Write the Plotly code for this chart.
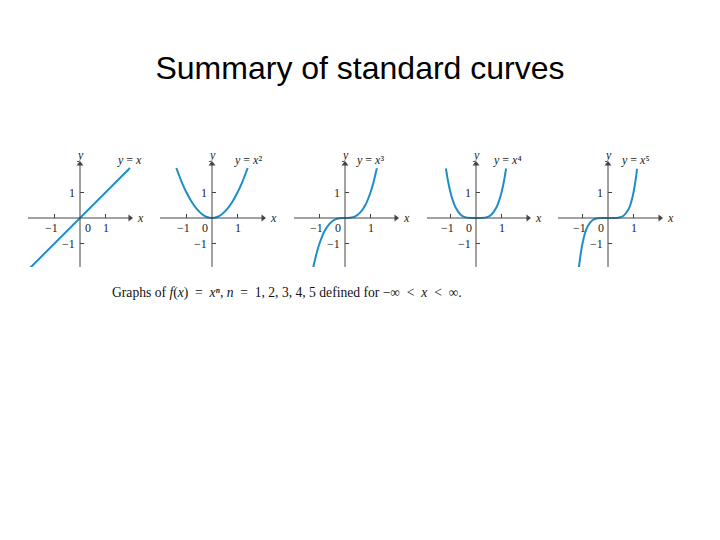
import plotly.graph_objects as go

# sample points, y = x^n for n = 1..5
x1 = [-2.0, 1.96]
y1 = [-2.0, 1.96]

x2 = [-1.4, -1.2, -1.0, -0.8, -0.6, -0.4, -0.2, 0.0, 0.2, 0.4, 0.6, 0.8, 1.0, 1.2, 1.4]
y2 = [1.96, 1.44, 1.0, 0.64, 0.36, 0.16, 0.04, 0.0, 0.04, 0.16, 0.36, 0.64, 1.0, 1.44, 1.96]

x3 = [-1.25, -1.1, -1.0, -0.8, -0.6, -0.4, -0.2, 0.0, 0.2, 0.4, 0.6, 0.8, 1.0, 1.1, 1.25]
y3 = [-1.95, -1.33, -1.0, -0.51, -0.22, -0.06, -0.01, 0.0, 0.01, 0.06, 0.22, 0.51, 1.0, 1.33, 1.95]

x4 = [-1.18, -1.1, -1.0, -0.9, -0.8, -0.6, -0.4, -0.2, 0.0, 0.2, 0.4, 0.6, 0.8, 0.9, 1.0, 1.1, 1.18]
y4 = [1.94, 1.46, 1.0, 0.66, 0.41, 0.13, 0.026, 0.002, 0.0, 0.002, 0.026, 0.13, 0.41, 0.66, 1.0, 1.46, 1.94]

x5 = [-1.14, -1.1, -1.0, -0.9, -0.8, -0.6, -0.4, -0.2, 0.0, 0.2, 0.4, 0.6, 0.8, 0.9, 1.0, 1.1, 1.14]
y5 = [-1.93, -1.61, -1.0, -0.59, -0.33, -0.078, -0.01, -0.0003, 0.0, 0.0003, 0.01, 0.078, 0.33, 0.59, 1.0, 1.61, 1.93]

curve_x = [x1, x2, x3, x4, x5]
curve_y = [y1, y2, y3, y4, y5]
eq_labels = ['<i>y</i> = <i>x</i>', '<i>y</i> = <i>x</i>\u00b2', '<i>y</i> = <i>x</i>\u00b3',
             '<i>y</i> = <i>x</i>\u2074', '<i>y</i> = <i>x</i>\u2075']
eq_pos = [1.96, 1.41, 0.98, 1.22, 1.06]

# layout of the five small panels (page pixels); the page body has an 8px margin
PAD = 8
W, H = 720 - PAD, 540 - PAD
U = 25.5          # pixels per unit
OY = 218          # pixel row of the x axis
Y_RANGE = [-1.92, 2.2]
origins = [80, 212, 345, 476, 608]
x_ranges = [[-2.04, 2.04], [-2.04, 2.08], [-2.0, 2.08], [-1.92, 2.12], [-1.96, 2.12]]
zero_left = [False, True, True, True, True]

CURVE = 'rgb(30,142,200)'
AXIS = '#444'
SERIF = 'Liberation Serif, Times New Roman, serif'


def px_x(p):
    return (p - PAD) / W


def px_y(p):
    return 1 - (p - PAD) / H


fig = go.Figure()
layout = {}
annotations = []
shapes = []

for i in range(5):
    n = '' if i == 0 else str(i + 1)
    xa, ya = 'x' + n, 'y' + n
    ox, xr = origins[i], x_ranges[i]
    layout['xaxis' + n] = dict(domain=[px_x(ox + xr[0] * U), px_x(ox + xr[1] * U)],
                               range=xr, visible=False, anchor=ya)
    layout['yaxis' + n] = dict(domain=[px_y(OY - Y_RANGE[0] * U), px_y(OY - Y_RANGE[1] * U)],
                               range=Y_RANGE, visible=False, anchor=xa)

    # axis lines through the origin
    shapes.append(dict(type='line', xref=xa, yref=ya, x0=xr[0], x1=xr[1], y0=0, y1=0,
                       line=dict(color=AXIS, width=1)))
    shapes.append(dict(type='line', xref=xa, yref=ya, x0=0, x1=0, y0=Y_RANGE[0], y1=Y_RANGE[1],
                       line=dict(color=AXIS, width=1)))
    # tick marks
    for t in (-1, 1):
        shapes.append(dict(type='line', xref=xa, yref=ya, x0=t, x1=t, y0=0, y1=0.16,
                           line=dict(color=AXIS, width=1)))
        shapes.append(dict(type='line', xref=xa, yref=ya, x0=0, x1=0.16, y0=t, y1=t,
                           line=dict(color=AXIS, width=1)))

    # arrowheads at the axis ends
    fig.add_trace(go.Scatter(x=[xr[1] - 0.08, 0], y=[0, Y_RANGE[1] - 0.08], mode='markers',
                             xaxis=xa, yaxis=ya, cliponaxis=False, showlegend=False, hoverinfo='skip',
                             marker=dict(symbol=['triangle-right', 'triangle-up'], size=6, color=AXIS)))

    fig.add_trace(go.Scatter(x=curve_x[i], y=curve_y[i], mode='lines', xaxis=xa, yaxis=ya,
                             line=dict(color=CURVE, width=2, shape='spline', smoothing=0.6),
                             showlegend=False, hoverinfo='skip', cliponaxis=False))

    lab = dict(xref=xa, yref=ya, showarrow=False, font=dict(family=SERIF, size=12, color='#222'))
    annotations.append(dict(lab, x=-1, y=0, text='\u22121', yanchor='top', yshift=-1, xshift=-3))
    annotations.append(dict(lab, x=1, y=0, text='1', yanchor='top', yshift=-1))
    annotations.append(dict(lab, x=0, y=0, text='0', yanchor='top', yshift=-1,
                            xanchor='right' if zero_left[i] else 'left', xshift=-2 if zero_left[i] else 3))
    annotations.append(dict(lab, x=0, y=1, text='1', xanchor='right', xshift=-3))
    annotations.append(dict(lab, x=0, y=-1, text='\u22121', xanchor='right', xshift=-3))
    annotations.append(dict(lab, x=xr[1], y=0, text='<i>x</i>', xanchor='left', xshift=3))
    annotations.append(dict(lab, x=0, y=Y_RANGE[1], text='<i>y</i>', yanchor='bottom', yshift=-2))
    # equation label sits just above the top of the y range
    annotations.append(dict(lab, x=eq_pos[i], y=Y_RANGE[1], text=eq_labels[i], yshift=2))

annotations.append(dict(xref='paper', yref='paper', x=px_x(110), y=px_y(293), xanchor='left',
                        yanchor='middle', showarrow=False,
                        text='Graphs of <i>f</i>(<i>x</i>)  =  <i>x\u207f</i>, <i>n</i>  =  1, 2, 3, 4, 5 '
                             'defined for \u2212\u221e  <  <i>x</i>  <  \u221e.',
                        font=dict(family=SERIF, size=13.6, color='#111')))

fig.update_layout(**layout)
fig.update_layout(
    title=dict(text='Summary of standard curves', x=px_x(360), xanchor='center', y=px_y(68), yanchor='middle',
               font=dict(family='Liberation Sans, Arial, sans-serif', size=32, color='black')),
    annotations=annotations,
    shapes=shapes,
    width=W, height=H,
    margin=dict(l=0, r=0, t=0, b=0),
    paper_bgcolor='white',
    plot_bgcolor='rgba(0,0,0,0)',
)

fig.write_html("out.html")
